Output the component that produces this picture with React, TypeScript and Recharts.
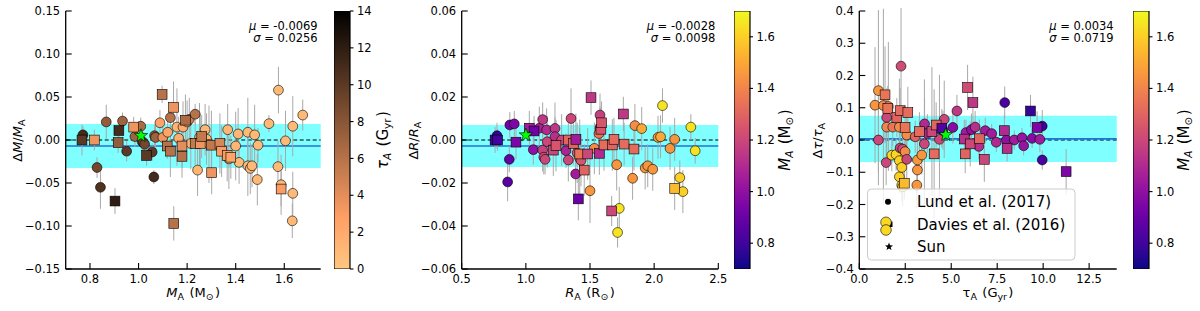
import React from 'react';
import { ScatterChart, Scatter, XAxis, YAxis, ReferenceArea, ReferenceLine, ErrorBar, BarChart, Bar } from 'recharts';

type Pt = [number, number, number, number]; // x, y, error, colour value

const FONT = '"DejaVu Sans", sans-serif';

// ---------------- Panel 1: mass ----------------
// colour value = age tau_A (Gyr)
const massLund: Pt[] = [
  [0.771, 0.006, 0.010, 11], [0.829, -0.032, 0.012, 9], [0.843, -0.055, 0.025, 10.5],
  [0.867, 0.021, 0.020, 7.5], [0.934, 0.022, 0.010, 7], [0.951, -0.013, 0.012, 10],
  [0.985, 0.004, 0.012, 7], [1.009, 0.016, 0.010, 6.5], [1.015, -0.002, 0.015, 8.5],
  [1.020, -0.003, 0.012, 8.5], [1.025, -0.005, 0.010, 9], [1.056, -0.014, 0.010, 10],
  [1.063, -0.043, 0.008, 11], [1.066, 0.005, 0.012, 8], [1.070, 0.003, 0.015, 7],
  [1.088, 0.020, 0.015, 2.5], [1.100, 0.003, 0.015, 3.5], [1.120, 0.009, 0.020, 2.5],
  [1.131, 0.026, 0.012, 6], [1.158, 0.015, 0.045, 1.5], [1.165, 0.002, 0.025, 2],
  [1.183, 0.015, 0.030, 2], [1.200, 0.021, 0.025, 1.5], [1.209, 0.024, 0.025, 5],
  [1.215, -0.004, 0.030, 1.5], [1.233, 0.030, 0.012, 6], [1.243, -0.035, 0.030, 1.2],
  [1.251, 0.003, 0.040, 2], [1.274, 0.012, 0.030, 1.2], [1.280, 0.001, 0.030, 1.2],
  [1.290, -0.005, 0.045, 1.2], [1.367, 0.012, 0.030, 1.2], [1.372, -0.022, 0.035, 1.2],
  [1.400, -0.007, 0.040, 1.2], [1.410, 0.007, 0.030, 1.2], [1.414, -0.026, 0.025, 1],
  [1.450, 0.009, 0.040, 1], [1.450, -0.030, 0.035, 1], [1.460, -0.033, 0.030, 1],
  [1.467, -0.030, 0.025, 1], [1.478, 0.006, 0.035, 1], [1.489, -0.046, 0.030, 1],
  [1.492, -0.006, 0.020, 1], [1.537, 0.019, 0.010, 1], [1.574, -0.031, 0.030, 1],
  [1.576, 0.058, 0.027, 1], [1.587, -0.052, 0.035, 1], [1.605, -0.001, 0.035, 1],
  [1.635, 0.016, 0.035, 1], [1.635, -0.062, 0.025, 1], [1.633, -0.094, 0.020, 1],
  [1.676, 0.029, 0.018, 1],
];
const massDavies: Pt[] = [
  [0.767, 0.000, 0.018, 10], [0.818, 0.000, 0.012, 3.5], [0.903, -0.071, 0.015, 12],
  [0.916, -0.003, 0.012, 7.5], [0.919, 0.011, 0.012, 11], [0.980, 0.015, 0.012, 3.5],
  [1.033, -0.018, 0.012, 10], [1.097, 0.053, 0.010, 6], [1.118, -0.007, 0.015, 6],
  [1.131, -0.013, 0.030, 6], [1.144, 0.038, 0.030, 3.5], [1.145, -0.097, 0.020, 6],
  [1.179, -0.007, 0.025, 4], [1.179, -0.019, 0.025, 6], [1.193, 0.023, 0.030, 6.5],
  [1.233, -0.004, 0.025, 5.5], [1.254, -0.004, 0.035, 3.5], [1.260, 0.004, 0.025, 5.5],
  [1.300, -0.006, 0.040, 5.5], [1.301, -0.038, 0.025, 3.5], [1.335, -0.004, 0.035, 4.5],
  [1.342, -0.013, 0.030, 3], [1.365, -0.018, 0.030, 3], [1.380, -0.020, 0.025, 2.5],
  [1.587, -0.057, 0.020, 3],
];
const massSun: [number, number] = [1.01, 0.005];
const massStats: [number, number] = [-0.0069, 0.0256];
const massXTicks = [0.8, 1.0, 1.2, 1.4, 1.6];
const massYTicks = [-0.15, -0.1, -0.05, 0, 0.05, 0.1, 0.15];

// ---------------- Panel 2: radius ----------------
// colour value = mass M_A
const radiusLund: Pt[] = [
  [0.775, 0.002, 0.006, 0.78], [0.858, -0.0195, 0.009, 0.86], [0.871, -0.009, 0.006, 0.88],
  [0.875, 0.007, 0.006, 0.92], [0.910, 0.0075, 0.006, 0.95], [1.058, -0.0045, 0.007, 1.0],
  [1.105, 0.0055, 0.010, 1.08], [1.131, 0.0095, 0.008, 1.15], [1.131, -0.0047, 0.010, 1.18],
  [1.140, -0.008, 0.008, 1.2], [1.150, -0.009, 0.007, 1.2], [1.162, 0.0047, 0.010, 1.1],
  [1.167, -0.0008, 0.012, 1.2], [1.227, 0.0054, 0.012, 1.15], [1.227, 0.0016, 0.009, 1.12],
  [1.279, 0.000, 0.012, 1.2], [1.313, -0.005, 0.008, 1.08], [1.331, -0.0093, 0.010, 1.2],
  [1.352, 0.010, 0.014, 1.2], [1.388, -0.0158, 0.010, 1.05], [1.400, -0.006, 0.014, 1.25],
  [1.420, -0.0085, 0.018, 1.3], [1.430, -0.0095, 0.012, 1.25], [1.500, -0.0236, 0.015, 1.45],
  [1.534, -0.0039, 0.012, 1.42], [1.570, 0.003, 0.010, 1.35], [1.578, 0.0116, 0.010, 1.18],
  [1.578, 0.0055, 0.010, 1.2], [1.708, -0.0115, 0.012, 1.45], [1.715, -0.043, 0.007, 1.65],
  [1.728, -0.0318, 0.010, 1.65], [1.832, -0.0178, 0.010, 1.45], [1.850, 0.0067, 0.010, 1.42],
  [1.903, 0.0053, 0.010, 1.5], [1.930, -0.013, 0.010, 1.45], [1.950, -0.012, 0.010, 1.45],
  [1.989, -0.0136, 0.010, 1.45], [2.030, 0.0012, 0.010, 1.45], [2.050, 0.0015, 0.010, 1.5],
  [2.065, 0.016, 0.008, 1.65], [2.124, -0.0039, 0.010, 1.45], [2.160, 0.0003, 0.010, 1.45],
  [2.200, -0.0175, 0.008, 1.6], [2.224, -0.024, 0.010, 1.6], [2.286, 0.006, 0.006, 1.65],
  [2.320, -0.005, 0.006, 1.65],
];
const radiusDavies: Pt[] = [
  [0.760, 0.000, 0.006, 0.78], [0.780, 0.000, 0.005, 0.8], [0.923, -0.001, 0.008, 0.95],
  [1.027, 0.0055, 0.008, 1.05], [1.064, 0.0042, 0.007, 0.92], [1.214, -0.0047, 0.012, 1.2],
  [1.235, -0.0026, 0.012, 1.25], [1.331, 0.000, 0.012, 1.3], [1.370, -0.0016, 0.010, 1.3],
  [1.390, 0.0003, 0.012, 1.05], [1.409, -0.0274, 0.010, 0.9], [1.420, -0.0065, 0.012, 1.35],
  [1.455, -0.014, 0.012, 1.3], [1.482, -0.0065, 0.012, 1.2], [1.508, 0.0197, 0.008, 1.15],
  [1.573, -0.0062, 0.010, 1.1], [1.585, 0.005, 0.010, 1.25], [1.590, 0.008, 0.010, 1.25],
  [1.609, -0.0023, 0.012, 1.32], [1.669, -0.033, 0.007, 1.2], [1.674, -0.0023, 0.012, 1.3],
  [1.687, 0.0003, 0.010, 1.32], [1.760, 0.0121, 0.008, 1.15], [1.766, -0.0019, 0.010, 1.32],
  [1.843, -0.0042, 0.010, 1.32], [2.160, -0.0225, 0.010, 1.55],
];
const radiusSun: [number, number] = [1.0, 0.0023];
const radiusStats: [number, number] = [-0.0028, 0.0098];
const radiusXTicks = [0.5, 1.0, 1.5, 2.0, 2.5];
const radiusYTicks = [-0.06, -0.04, -0.02, 0, 0.02, 0.04, 0.06];

// ---------------- Panel 3: age ----------------
// colour value = mass M_A
const ageLund: Pt[] = [
  [0.855, 0.108, 0.180, 1.45], [1.04, 0.153, 0.250, 1.45], [1.04, 0.000, 0.140, 1.2],
  [1.31, 0.107, 0.300, 1.42], [1.46, -0.070, 0.070, 1.2], [1.49, 0.070, 0.060, 1.2],
  [1.49, 0.040, 0.120, 1.4], [1.58, 0.104, 0.200, 1.42], [1.77, -0.047, 0.050, 1.62],
  [1.82, 0.040, 0.060, 1.35], [2.00, -0.045, 0.050, 1.62], [2.18, 0.040, 0.150, 1.42],
  [2.18, -0.064, 0.050, 1.6], [2.18, -0.114, 0.050, 1.6], [2.22, -0.025, 0.060, 1.2],
  [2.27, 0.229, 0.180, 1.22], [2.31, -0.085, 0.060, 1.6], [2.31, -0.140, 0.050, 1.6],
  [2.36, -0.028, 0.060, 1.22], [2.36, -0.145, 0.060, 1.62], [2.49, -0.036, 0.060, 1.42],
  [2.58, 0.0155, 0.080, 1.42], [2.58, -0.060, 0.060, 1.2], [3.04, 0.010, 0.050, 1.3],
  [3.13, -0.140, 0.070, 1.45], [3.16, -0.093, 0.070, 1.45], [3.16, -0.062, 0.060, 1.45],
  [3.40, -0.0465, 0.060, 1.45], [3.54, -0.012, 0.200, 1.2], [3.55, 0.050, 0.080, 1.1],
  [3.70, 0.020, 0.060, 1.1], [4.36, 0.002, 0.200, 1.2], [4.62, 0.064, 0.120, 1.2],
  [4.55, 0.030, 0.060, 1.05], [5.09, 0.039, 0.050, 0.98], [5.31, 0.090, 0.050, 1.15],
  [5.80, 0.023, 0.040, 1.05], [6.10, 0.032, 0.050, 1.0], [6.30, 0.040, 0.050, 1.12],
  [6.50, -0.020, 0.040, 1.12], [6.85, 0.029, 0.040, 1.05], [7.20, 0.020, 0.030, 1.05],
  [7.45, -0.007, 0.030, 1.1], [7.91, 0.116, 0.050, 0.82], [8.00, 0.000, 0.040, 1.0],
  [8.43, 0.000, 0.030, 1.05], [8.85, 0.007, 0.030, 1.02], [8.94, -0.018, 0.030, 1.02],
  [9.40, 0.005, 0.030, 0.98], [9.82, 0.002, 0.040, 1.05], [9.95, 0.043, 0.050, 0.8],
  [9.95, -0.062, 0.030, 0.82],
];
const ageDavies: Pt[] = [
  [1.40, 0.140, 0.150, 1.35], [1.55, 0.098, 0.070, 1.35], [2.04, 0.070, 0.060, 1.3],
  [2.22, 0.091, 0.070, 1.32], [2.45, -0.134, 0.050, 1.55], [2.49, 0.039, 0.070, 1.35],
  [2.64, 0.085, 0.080, 1.32], [3.27, 0.026, 0.060, 1.32], [3.95, 0.026, 0.200, 1.2],
  [4.07, -0.043, 0.200, 1.32], [4.18, 0.0465, 0.070, 1.3], [4.49, 0.036, 0.060, 0.85],
  [5.71, 0.003, 0.060, 1.12], [5.76, -0.043, 0.060, 1.3], [5.89, 0.163, 0.070, 1.22],
  [6.03, -0.012, 0.070, 1.2], [6.18, 0.116, 0.080, 1.15], [6.53, 0.004, 0.060, 1.3],
  [6.80, -0.060, 0.070, 1.2], [7.89, 0.029, 0.050, 1.1], [8.04, -0.026, 0.040, 1.12],
  [9.31, 0.090, 0.050, 0.78], [9.67, 0.039, 0.050, 0.95], [11.25, -0.098, 0.070, 0.95],
];
const ageSun: [number, number] = [4.7, 0.016];
const ageStats: [number, number] = [0.0034, 0.0719];
const ageXTicks = [0, 2.5, 5, 7.5, 10, 12.5];
const ageYTicks = [-0.4, -0.3, -0.2, -0.1, 0, 0.1, 0.2, 0.3, 0.4];

// colourbars
const tauCbarRange: [number, number] = [0, 14];
const massCbarRange: [number, number] = [0.7, 1.7];
const tauCbarTicks = [0, 2, 4, 6, 8, 10, 12, 14];
const massCbarTicks = [0.8, 1.0, 1.2, 1.4, 1.6];

const legendLabels = ['Lund et al. (2017)', 'Davies et al. (2016)', 'Sun'];

// ---------------- colour maps ----------------
const PLASMA = ['#0d0887', '#46039f', '#7201a8', '#9c179e', '#bd3786', '#d8576b', '#ed7953', '#fb9f3a', '#fdca26', '#f0f921'];
const clamp = (t: number) => Math.max(0, Math.min(1, t));
const hex = (h: string) => [1, 3, 5].map((i) => parseInt(h.slice(i, i + 2), 16));
function plasma(t: number): string {
  const n = PLASMA.length - 1;
  const p = clamp(t) * n;
  const i = Math.min(n - 1, Math.floor(p));
  const f = p - i;
  const a = hex(PLASMA[i]);
  const b = hex(PLASMA[i + 1]);
  const c = a.map((v, k) => Math.round(v + (b[k] - v) * f));
  return `rgb(${c[0]},${c[1]},${c[2]})`;
}
function copperR(t: number): string {
  const x = 1 - clamp(t);
  return `rgb(${Math.round(255 * Math.min(1, 1.25 * x))},${Math.round(255 * 0.7812 * x)},${Math.round(255 * 0.4975 * x)})`;
}
const tauColor = (v: number) => copperR(v / 14);
const massColor = (v: number) => plasma((v - 0.7) / 1.0);

const minus = (s: string) => s.replace('-', '\u2212');

// ---------------- shapes ----------------
const emptyShape = () => <g />;
const circleShape = (col: (v: number) => string) => (p: any) => (
  <circle cx={p.cx} cy={p.cy} r={4.9} fill={col(p.payload.c)} stroke="#000" strokeWidth={0.6} />
);
const squareShape = (col: (v: number) => string) => (p: any) => (
  <rect x={p.cx - 4.9} y={p.cy - 4.9} width={9.8} height={9.8} fill={col(p.payload.c)} stroke="#000" strokeWidth={0.6} />
);
function starPath(cx: number, cy: number, R: number, r: number) {
  const pts: string[] = [];
  for (let i = 0; i < 10; i++) {
    const rad = i % 2 === 0 ? R : r;
    const a = -Math.PI / 2 + (i * Math.PI) / 5;
    pts.push(`${cx + rad * Math.cos(a)},${cy + rad * Math.sin(a)}`);
  }
  return 'M' + pts.join('L') + 'Z';
}
const starShape = (p: any) => <path d={starPath(p.cx, p.cy, 7, 2.9)} fill="#00ff00" stroke="#000" strokeWidth={0.6} />;

const tickStyle = { fill: '#000', fontSize: 11.5, fontFamily: FONT };
const frame = { stroke: '#000', strokeWidth: 1.3 };
const tl = { stroke: '#000', strokeWidth: 1.1 };

interface PanelProps {
  left: number; plotL: number; plotR: number;
  xDomain: [number, number]; xTicks: number[]; xFmt: (v: number) => string;
  yDomain: [number, number]; yTicks: number[]; yFmt: (v: number) => string;
  lund: Pt[]; davies: Pt[]; sun: [number, number]; stats: [number, number];
  colorOf: (v: number) => string;
}

function Panel(props: PanelProps) {
  const { left, plotL, plotR, xDomain, xTicks, xFmt, yDomain, yTicks, yFmt, lund, davies, sun, stats, colorOf } = props;
  const toObj = (p: Pt) => ({ x: p[0], y: p[1], e: p[2], c: p[3] });
  const L = lund.map(toObj);
  const D = davies.map(toObj);
  const all = [...L, ...D];
  const [mu, sigma] = stats;
  return (
    <div style={{ position: 'absolute', left, top: 0 }}>
      <ScatterChart width={400} height={311} margin={{ top: 11, right: 400 - plotR, bottom: 0, left: 0 }}>
        <XAxis xAxisId="b" type="number" dataKey="x" domain={xDomain} allowDataOverflow ticks={xTicks} interval={0}
          tickFormatter={xFmt} height={42} tickSize={-6} tickMargin={12} tick={tickStyle}
          axisLine={frame} tickLine={tl} />
        <XAxis xAxisId="t" orientation="top" type="number" domain={xDomain} allowDataOverflow ticks={xTicks} interval={0}
          tickFormatter={() => ''} height={0} tickSize={-6} tick={tickStyle}
          axisLine={frame} tickLine={tl} />
        <YAxis yAxisId="l" type="number" dataKey="y" domain={yDomain} allowDataOverflow ticks={yTicks} interval={0}
          tickFormatter={yFmt} width={plotL} tickSize={-6} tickMargin={11.5} tick={tickStyle}
          axisLine={frame} tickLine={tl} />
        <YAxis yAxisId="r" orientation="right" type="number" domain={yDomain} allowDataOverflow ticks={yTicks} interval={0}
          tickFormatter={() => ''} width={0} tickSize={-6} tick={tickStyle}
          axisLine={frame} tickLine={tl} />
        <ReferenceArea xAxisId="b" yAxisId="l" y1={mu - sigma} y2={mu + sigma} fill="#00ffff" fillOpacity={0.5} stroke="none" />
        <ReferenceLine xAxisId="b" yAxisId="l" y={0} stroke="#000" strokeWidth={1.1} strokeDasharray="4 2.5" />
        <ReferenceLine xAxisId="b" yAxisId="l" y={mu} stroke="#2272d6" strokeWidth={1.6} />
        <Scatter xAxisId="b" yAxisId="l" data={all} shape={emptyShape} isAnimationActive={false}>
          <ErrorBar dataKey="e" direction="y" width={0} stroke="#a8a8a8" strokeWidth={1} isAnimationActive={false} />
        </Scatter>
        <Scatter xAxisId="b" yAxisId="l" data={L} shape={circleShape(colorOf)} isAnimationActive={false} />
        <Scatter xAxisId="b" yAxisId="l" data={D} shape={squareShape(colorOf)} isAnimationActive={false} />
        <Scatter xAxisId="b" yAxisId="l" data={[{ x: sun[0], y: sun[1] }]} shape={starShape} isAnimationActive={false} />
      </ScatterChart>
    </div>
  );
}

interface CbarProps { left: number; width: number; range: [number, number]; ticks: number[]; fmt: (v: number) => string; gradId: string; }
function Colorbar({ left, width, range, ticks, fmt, gradId }: CbarProps) {
  const axisW = 32;
  const data = [{ k: 'cbar', r: range }];
  return (
    <div style={{ position: 'absolute', left, top: 0 }}>
      <BarChart width={width + axisW} height={311} data={data} margin={{ top: 11, right: 0, bottom: 42, left: 0 }}
        barCategoryGap={0} barGap={0}>
        <XAxis dataKey="k" type="category" hide height={0} />
        <YAxis orientation="right" type="number" domain={range} allowDataOverflow ticks={ticks} interval={0}
          tickFormatter={fmt} width={axisW} tickSize={3.5} tickMargin={3.5} axisLine={false} tick={tickStyle}
          tickLine={tl} />
        <Bar dataKey="r" fill={`url(#${gradId})`} stroke="#000" strokeWidth={1.2} isAnimationActive={false} />
      </BarChart>
    </div>
  );
}

let subKey = 0;
const sub = (s: string, size = 9.5, italic = false) => {
  subKey += 1;
  return [
    <tspan key={`s${subKey}a`} fontSize={size} dy={3} fontStyle={italic ? 'italic' : 'normal'}>{s}</tspan>,
    <tspan key={`s${subKey}b`} dy={-3}>{'\u200a'}</tspan>,
  ];
};

const gradStops = (fn: (t: number) => string) =>
  Array.from({ length: 21 }, (_, i) => <stop key={i} offset={`${i * 5}%`} stopColor={fn(i / 20)} />);

export default function App() {
  const fmt1 = (v: number) => minus(v.toFixed(1));
  const fmt2 = (v: number) => minus(v.toFixed(2));
  const panels = [
    { left: 0, plotL: 65.7, plotR: 320.7 },
    { left: 400, plotL: 61.7, plotR: 318.3 },
    { left: 800, plotL: 59.3, plotR: 316.7 },
  ];
  const statText = (p: { left: number; plotR: number }, s: [number, number]) => (
    <g fontFamily={FONT} fontSize={11.5} textAnchor="end" fill="#000">
      <text x={p.left + p.plotR - 3} y={29.7}><tspan fontStyle="italic">μ</tspan> = {s[0].toFixed(4)}</text>
      <text x={p.left + p.plotR - 3} y={41.5}><tspan fontStyle="italic">σ</tspan> = {s[1].toFixed(4)}</text>
    </g>
  );
  const xTitleY = 297;
  const cx = (p: { left: number; plotL: number; plotR: number }) => p.left + (p.plotL + p.plotR) / 2;
  const yTitle = (x: number, content: React.ReactNode, size = 13) => (
    <text transform={`translate(${x},140) rotate(-90)`} textAnchor="middle" dy="0.35em" fontFamily={FONT} fontSize={size} fill="#000">{content}</text>
  );
  const cbTitleTau = [<tspan key="t" fontStyle="italic">τ</tspan>, ...sub('A', 10.5, true), <tspan key="p"> (G</tspan>, ...sub('yr', 10.5), <tspan key="c">)</tspan>];
  const cbTitleM1 = [<tspan key="t" fontStyle="italic">M</tspan>, ...sub('A', 10.5, true), <tspan key="p"> (M</tspan>, ...sub('⊙', 10.5), <tspan key="c">)</tspan>];
  const cbTitleM2 = [<tspan key="t" fontStyle="italic">M</tspan>, ...sub('A', 10.5, true), <tspan key="p"> (M</tspan>, ...sub('⊙', 10.5), <tspan key="c">)</tspan>];
  return (
    <div style={{ position: 'absolute', left: 0, top: 0, width: 1200, height: 311, background: '#fff', fontFamily: FONT, overflow: 'hidden' }}>
      <svg width={0} height={0} style={{ position: 'absolute' }}>
        <defs>
          <linearGradient id="gradCopper" x1="0" y1="1" x2="0" y2="0">{gradStops(copperR)}</linearGradient>
          <linearGradient id="gradPlasma" x1="0" y1="1" x2="0" y2="0">{gradStops(plasma)}</linearGradient>
        </defs>
      </svg>

      <Panel {...panels[0]} xDomain={[0.7, 1.75]} xTicks={massXTicks} xFmt={fmt1} yDomain={[-0.15, 0.15]} yTicks={massYTicks}
        yFmt={fmt2} lund={massLund} davies={massDavies} sun={massSun} stats={massStats} colorOf={tauColor} />
      <Panel {...panels[1]} xDomain={[0.5, 2.5]} xTicks={radiusXTicks} xFmt={fmt1} yDomain={[-0.06, 0.06]} yTicks={radiusYTicks}
        yFmt={fmt2} lund={radiusLund} davies={radiusDavies} sun={radiusSun} stats={radiusStats} colorOf={massColor} />
      <Panel {...panels[2]} xDomain={[0, 14]} xTicks={ageXTicks} xFmt={fmt1} yDomain={[-0.4, 0.4]} yTicks={ageYTicks}
        yFmt={fmt1} lund={ageLund} davies={ageDavies} sun={ageSun} stats={ageStats} colorOf={massColor} />

      <Colorbar left={334.3} width={16} range={tauCbarRange} ticks={tauCbarTicks} fmt={(v) => String(v)} gradId="gradCopper" />
      <Colorbar left={734} width={15.5} range={massCbarRange} ticks={massCbarTicks} fmt={fmt1} gradId="gradPlasma" />
      <Colorbar left={1132.5} width={16} range={massCbarRange} ticks={massCbarTicks} fmt={fmt1} gradId="gradPlasma" />

      <svg width={1200} height={311} style={{ position: 'absolute', left: 0, top: 0, pointerEvents: 'none' }}>
        {statText(panels[0], massStats)}
        {statText(panels[1], radiusStats)}
        {statText(panels[2], ageStats)}

        <text x={cx(panels[0])} y={xTitleY} textAnchor="middle" fontFamily={FONT} fontSize={13} fill="#000">
          <tspan fontStyle="italic">M</tspan>{sub('A')}<tspan> (M</tspan>{sub('⊙')}<tspan>)</tspan>
        </text>
        <text x={cx(panels[1])} y={xTitleY} textAnchor="middle" fontFamily={FONT} fontSize={13} fill="#000">
          <tspan fontStyle="italic">R</tspan>{sub('A')}<tspan> (R</tspan>{sub('⊙')}<tspan>)</tspan>
        </text>
        <text x={cx(panels[2])} y={xTitleY} textAnchor="middle" fontFamily={FONT} fontSize={13} fill="#000">
          <tspan>τ</tspan>{sub('A')}<tspan> (G</tspan>{sub('yr')}<tspan>)</tspan>
        </text>

        {yTitle(panels[0].left + panels[0].plotL - 48, [<tspan key="d">Δ</tspan>, <tspan key="m" fontStyle="italic">M</tspan>, <tspan key="s">/</tspan>, <tspan key="m2" fontStyle="italic">M</tspan>, ...sub('A')])}
        {yTitle(panels[1].left + panels[1].plotL - 48, [<tspan key="d">Δ</tspan>, <tspan key="m" fontStyle="italic">R</tspan>, <tspan key="s">/</tspan>, <tspan key="m2" fontStyle="italic">R</tspan>, ...sub('A')])}
        {yTitle(panels[2].left + panels[2].plotL - 42, [<tspan key="d">Δ</tspan>, <tspan key="m" fontStyle="italic">τ</tspan>, <tspan key="s">/</tspan>, <tspan key="m2" fontStyle="italic">τ</tspan>, ...sub('A')])}

        {yTitle(383, cbTitleTau, 15)}
        {yTitle(785, cbTitleM1, 15)}
        {yTitle(1184, cbTitleM2, 15)}

        <g>
          <rect x={867.5} y={189} width={207.5} height={71} rx={4} fill="#fff" fillOpacity={0.8} stroke="#cccccc" strokeWidth={1} />
          <circle cx={888} cy={201.7} r={3} fill="#000" />
          <rect x={887} y={221.5} width={5.5} height={5.5} fill="#000" />
          <circle cx={886} cy={222.3} r={5.3} fill={massColor(1.62)} stroke="#000" strokeWidth={0.6} />
          <circle cx={886} cy={230} r={5.3} fill={massColor(1.62)} stroke="#000" strokeWidth={0.6} />
          <path d={starPath(889, 246.7, 4.2, 1.8)} fill="#000" />
          <g fontFamily={FONT} fontSize={15} fill="#000">
            <text x={917} y={207}>{legendLabels[0]}</text>
            <text x={917} y={229.5}>{legendLabels[1]}</text>
            <text x={917} y={252}>{legendLabels[2]}</text>
          </g>
        </g>
      </svg>
    </div>
  );
}
